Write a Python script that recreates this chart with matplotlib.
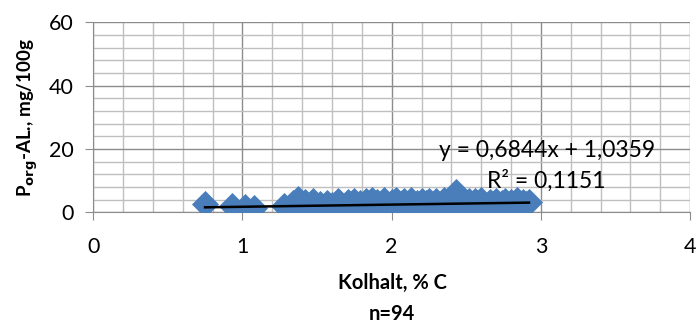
"""Scatter of organic P (AL) against carbon content with a linear trendline."""

import matplotlib.pyplot as plt
from matplotlib.ticker import MultipleLocator

plt.rcParams["font.family"] = ["Lato", "DejaVu Sans"]

# carbon content, % C
kolhalt = [
    0.75, 0.93, 1.02, 1.08, 1.28, 1.31, 1.34, 1.37, 1.39, 1.42,
    1.44, 1.45, 1.47, 1.50, 1.52, 1.55, 1.57, 1.60, 1.62, 1.64,
    1.67, 1.69, 1.71, 1.73, 1.75, 1.77, 1.79, 1.81, 1.83, 1.85,
    1.86, 1.87, 1.88, 1.90, 1.92, 1.94, 1.95, 1.97, 1.99, 2.00,
    2.02, 2.03, 2.05, 2.07, 2.08, 2.10, 2.12, 2.13, 2.14, 2.15,
    2.17, 2.18, 2.20, 2.22, 2.23, 2.25, 2.27, 2.28, 2.30, 2.32,
    2.33, 2.35, 2.37, 2.38, 2.40, 2.42, 2.43, 2.45, 2.47, 2.48,
    2.50, 2.52, 2.54, 2.55, 2.56, 2.58, 2.60, 2.62, 2.64, 2.66,
    2.68, 2.70, 2.72, 2.74, 2.76, 2.78, 2.79, 2.80, 2.82, 2.84,
    2.86, 2.88, 2.90, 2.92,
]
# P_org-AL, mg/100g
p_org = [
    2.5, 2.1, 1.6, 1.2, 2.0, 1.4, 2.8, 4.2, 1.6, 3.1,
    1.5, 2.4, 3.4, 1.8, 2.7, 1.5, 3.0, 2.2, 1.6, 3.4,
    2.0, 1.4, 3.1, 2.5, 3.6, 1.7, 2.8, 2.2, 3.7, 1.5,
    2.6, 3.9, 2.0, 3.2, 1.6, 2.7, 4.0, 2.2, 1.4, 3.3,
    2.5, 3.9, 1.9, 2.8, 3.5, 1.5, 2.4, 3.8, 2.0, 1.3,
    3.0, 2.3, 3.7, 1.6, 2.9, 3.6, 1.8, 2.5, 3.4, 1.4,
    2.2, 3.8, 2.7, 1.6, 3.3, 2.0, 6.3, 2.9, 3.7, 1.5,
    2.6, 3.4, 2.1, 1.4, 3.6, 2.8, 3.9, 2.3, 1.7, 3.2,
    2.5, 3.5, 1.6, 2.9, 3.7, 2.1, 1.5, 3.3, 2.6, 3.8,
    2.0, 3.1, 2.6, 3.2,
]

# trendline coefficients as printed on the chart
slope = 0.6844
intercept = 1.0359
equation_label = "y = 0,6844x + 1,0359"
r2_label = "R² = 0,1151"

fig = plt.figure(figsize=(7.0, 3.26), dpi=100)
ax = fig.add_axes([0.133, 0.349, 0.853, 0.583])

ax.scatter(kolhalt, p_org, marker="D", s=190, color="#4a7ebb",
           linewidths=0, zorder=3)

x_line = [min(kolhalt), max(kolhalt)]
y_line = [slope * x + intercept for x in x_line]
ax.plot(x_line, y_line, color="black", linewidth=1.8, zorder=4)

ax.set_xlim(0, 4)
ax.set_ylim(0, 60)
ax.xaxis.set_major_locator(MultipleLocator(1))
ax.xaxis.set_minor_locator(MultipleLocator(0.2))
ax.yaxis.set_major_locator(MultipleLocator(20))
ax.yaxis.set_minor_locator(MultipleLocator(4))

ax.grid(True, which="major", color="#8c8c8c", linewidth=1.0, zorder=0)
ax.grid(True, which="minor", color="#bfbfbf", linewidth=1.0, zorder=0)
ax.set_axisbelow(True)

for side in ["top", "right"]:
    ax.spines[side].set_visible(False)
ax.spines["left"].set_color("#8c8c8c")
ax.spines["bottom"].set_color("#8c8c8c")

ax.tick_params(which="major", length=6, color="#8c8c8c", labelsize=15.5,
               direction="out")
ax.tick_params(which="minor", length=0)
ax.tick_params(axis="x", pad=12)
ax.tick_params(axis="y", pad=8)

ax.text(2.32, 19.6, equation_label, fontsize=16.5, va="center", zorder=5)
ax.text(2.64, 9.9, r2_label, fontsize=16.5, va="center", zorder=5)

fig.text(0.04, 0.64, r"P$_{\mathbf{org}}$-AL., mg/100g", rotation=90,
         fontsize=13.5, fontweight="bold", ha="center", va="center")
fig.text(0.56, 0.132, "Kolhalt, % C", fontsize=14.5, fontweight="bold",
         ha="center", va="center")
fig.text(0.56, 0.037, "n=94", fontsize=14.5, fontweight="bold",
         ha="center", va="center")

fig.savefig("out.png", dpi=100)
